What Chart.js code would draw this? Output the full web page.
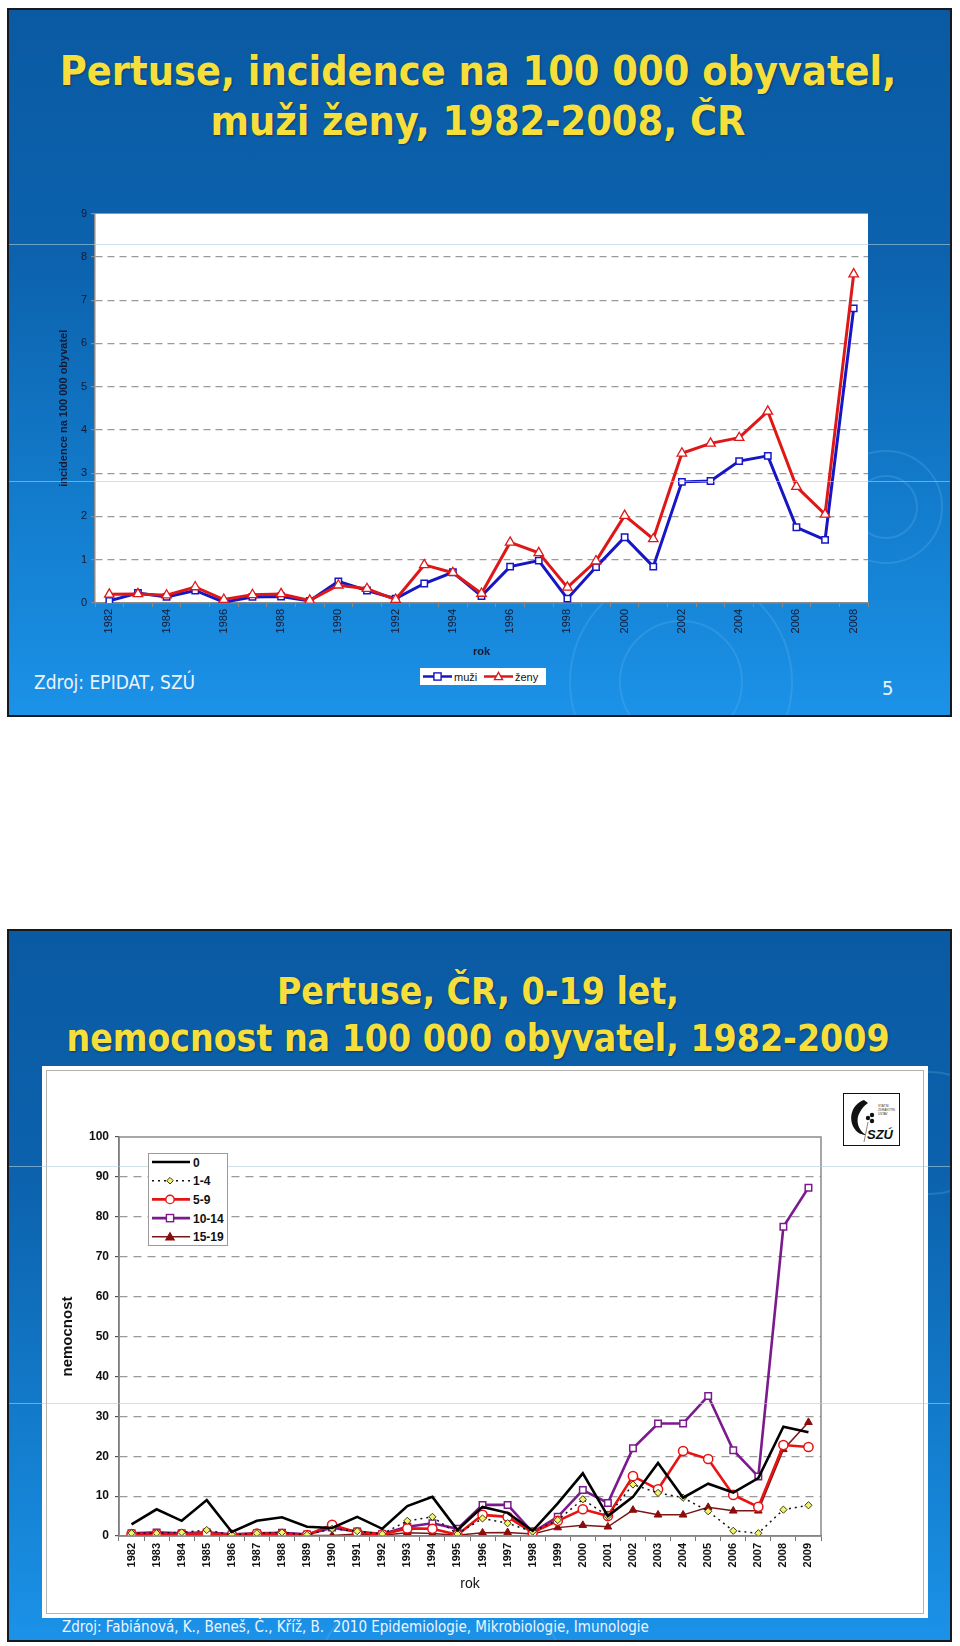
<!DOCTYPE html>
<html lang="cs">
<head>
<meta charset="UTF-8" />
<title>Pertuse - incidence</title>
<script src="https://cdn.jsdelivr.net/npm/chart.js"></script>
<style>
  body {
    margin: 0;
    width: 960px;
    height: 1646px;
    position: relative;
    overflow: hidden;
    background: #fff;
    font-family: 'Liberation Sans', Arial, sans-serif;
  }
  .slide {
    position: absolute;
    left: 7px;
    width: 941px;
    border: 2px solid #17191e;
    overflow: hidden;
    background: linear-gradient(180deg, #0a5aa3 0%, #0c62ad 35%, #137ccc 70%, #1b92e8 100%);
  }
  #s1 { top: 8px; height: 705px; }
  #s2 { top: 929px; height: 709px; }
  .ring {
    position: absolute;
    border-radius: 50%;
    border: 2px solid rgba(120, 190, 240, 0.22);
  }
  .title {
    position: absolute;
    left: 0;
    width: 956px;
    text-align: center;
    color: #f6df3a;
    font-family: 'DejaVu Sans Condensed', 'DejaVu Sans', sans-serif;
    font-stretch: condensed;
    font-weight: bold;
    text-shadow: 1px 1px 2px rgba(0, 0, 0, 0.35);
    white-space: nowrap;
  }
  #t1 { top: 46px; font-size: 41px; line-height: 50px; }
  #t2 { top: 968px; font-size: 37px; line-height: 47px; }
  .note {
    position: absolute;
    color: #eef4ff;
    font-family: 'DejaVu Sans Condensed', 'DejaVu Sans', sans-serif;
    font-stretch: condensed;
    white-space: nowrap;
  }
  .band {
    position: absolute;
    left: 9px;
    width: 941px;
    height: 1px;
    background: rgba(175, 205, 222, 0.6);
    z-index: 5;
  }
  canvas { position: absolute; }
  #wrap1 { position: absolute; left: 30px; top: 203px; width: 850px; height: 460px; }
  #wrap2 { position: absolute; left: 50px; top: 1120px; width: 800px; height: 480px; }
  #box2 {
    position: absolute;
    left: 42px; top: 1066px; width: 886px; height: 552px;
    background: #fff;
  }
  #box2 div {
    position: absolute;
    left: 4px; top: 4px; right: 4px; bottom: 4px;
    border: 1px solid #b4b4b4;
  }
  #leg1 {
    position: absolute;
    left: 420px; top: 668px; width: 126px; height: 17px;
    background: #fff;
  }
  #leg2 {
    position: absolute;
    left: 148px; top: 1153px; width: 80px; height: 93px;
    background: #fff;
    border: 1px solid #9a9a9a;
    box-sizing: border-box;
    z-index: 6;
  }
  #logo {
    position: absolute;
    left: 843px; top: 1093px; width: 57px; height: 53px;
    background: #fff;
    border: 1.5px solid #111;
    box-sizing: border-box;
  }
</style>
</head>
<body>
  <div class="slide" id="s1">
    <div class="ring" style="left:820px; top:440px; width:110px; height:110px;"></div>
    <div class="ring" style="left:845px; top:465px; width:60px; height:60px;"></div>
    <div class="ring" style="left:560px; top:560px; width:220px; height:220px;"></div>
    <div class="ring" style="left:610px; top:610px; width:120px; height:120px;"></div>
  </div>
  <div class="slide" id="s2">
    <div class="ring" style="left:860px; top:140px; width:120px; height:120px;"></div>
    <div class="ring" style="left:300px; top:640px; width:260px; height:260px;"></div>
  </div>

  <div class="title" id="t1">Pertuse, incidence na 100 000 obyvatel,<br>muži ženy, 1982-2008, ČR</div>
  <div class="title" id="t2">Pertuse, ČR, 0-19 let,<br>nemocnost na 100 000 obyvatel, 1982-2009</div>

  <div id="wrap1"><canvas id="chart1"></canvas></div>
  <div id="leg1"></div>
  <div class="note" style="left:34px; top:671px; font-size:19px;">Zdroj: EPIDAT, SZÚ</div>
  <div class="note" style="left:882px; top:676px; font-size:20px;">5</div>

  <div id="box2"><div></div></div>
  <div id="wrap2"><canvas id="chart2"></canvas></div>
  <div id="leg2"></div>
  <div id="logo">
    <svg width="54" height="50" viewBox="0 0 54 50">
      <path d="M20 6 C8 10 4 24 10 34 C13 39 18 41 22 41 C14 36 11 26 16 18 C18 14 21 11 24 9 Z" fill="#111"/>
      <circle cx="24" cy="24" r="2.2" fill="#111"/><circle cx="28" cy="21" r="2.2" fill="#111"/><circle cx="28" cy="27" r="2.2" fill="#111"/>
      <line x1="24" y1="28" x2="20" y2="48" stroke="#888" stroke-width="1"/>
      <text x="34" y="13" font-size="3" fill="#333">STÁTNÍ</text>
      <text x="34" y="17" font-size="3" fill="#333">ZDRAVOTNÍ</text>
      <text x="34" y="21" font-size="3" fill="#333">ÚSTAV</text>
      <text x="23" y="45" font-size="13" font-weight="bold" font-style="italic" fill="#111" font-family="Liberation Sans">SZÚ</text>
    </svg>
  </div>
  <div class="note" style="left:62px; top:1618px; font-size:15px;">Zdroj: Fabiánová, K., Beneš, Č., Kříž, B.&nbsp; 2010 Epidemiologie, Mikrobiologie, Imunologie</div>

  <div class="band" style="top:244px;"></div>
  <div class="band" style="top:481px;"></div>
  <div class="band" style="top:1166px;"></div>
  <div class="band" style="top:1403px;"></div>

<script>
  // --- graf 1: incidence muži / ženy ---
  const roky1 = ['1982','1983','1984','1985','1986','1987','1988','1989','1990','1991','1992','1993','1994','1995',
                 '1996','1997','1998','1999','2000','2001','2002','2003','2004','2005','2006','2007','2008'];
  const muzi = [0.05,0.23,0.14,0.29,0.02,0.14,0.15,0.05,0.50,0.29,0.10,0.45,0.71,0.16,
                0.84,0.98,0.10,0.83,1.52,0.84,2.80,2.82,3.28,3.40,1.75,1.46,6.81];
  const zeny = [0.20,0.21,0.18,0.37,0.08,0.19,0.21,0.06,0.41,0.33,0.08,0.88,0.70,0.22,
                1.40,1.16,0.36,0.97,2.02,1.48,3.46,3.69,3.82,4.43,2.69,2.05,7.60];
  const ticks1 = [0,1,2,3,4,5,6,7,8,9];

  // --- graf 2: nemocnost 0-19 let ---
  const roky2 = ['1982','1983','1984','1985','1986','1987','1988','1989','1990','1991','1992','1993','1994','1995',
                 '1996','1997','1998','1999','2000','2001','2002','2003','2004','2005','2006','2007','2008','2009'];
  const vek0   = [2.9,6.7,3.8,9.0,1.0,3.8,4.7,2.3,2.0,4.8,1.8,7.5,9.8,1.5,
                  7.3,5.8,1.3,8.2,15.7,5.0,9.8,18.3,9.6,13.1,10.9,14.5,27.4,26.0];
  const vek1_4 = [0.7,0.7,0.9,1.5,0.3,0.7,0.9,0.3,1.8,1.2,0.5,3.8,4.8,0.5,
                  4.4,3.2,1.1,4.0,9.2,5.0,12.9,10.8,9.6,6.2,1.3,0.7,6.6,7.7];
  const vek5_9 = [0.5,0.5,0.4,0.7,0.3,0.6,0.5,0.25,2.8,0.9,0.4,1.9,1.8,0.3,
                  5.3,4.8,0.9,3.8,6.7,5.0,15.0,11.7,21.3,19.3,10.3,7.3,22.8,22.3];
  const vek10_14 = [0.7,0.9,0.7,0.9,0.4,0.7,0.8,0.4,2.1,1.1,0.5,2.3,3.2,1.8,
                    7.8,7.8,0.9,4.8,11.5,8.3,22.0,28.2,28.2,35.1,21.5,14.9,77.5,87.3];
  const vek15_19 = [0.2,0.2,0.1,0.2,0.1,0.2,0.1,0.1,0.1,0.5,0.2,0.8,0.6,0.2,
                    0.8,0.9,0.5,2.1,2.7,2.3,6.5,5.3,5.3,7.2,6.3,6.3,21.7,28.5];
  const skupiny = ['0','1-4','5-9','10-14','15-19'];
  const ticks2 = [0,10,20,30,40,50,60,70,80,90,100];

  const plotBg = {
    id: 'plotBg',
    beforeDraw(chart) {
      const {ctx, chartArea: a} = chart;
      ctx.save();
      ctx.fillStyle = '#fff';
      ctx.fillRect(a.left, a.top, a.right - a.left, a.bottom - a.top);
      ctx.restore();
    }
  };
  const plotFrame = {
    id: 'plotFrame',
    afterDraw(chart) {
      const {ctx, chartArea: a} = chart;
      ctx.save();
      ctx.strokeStyle = '#8a8a8a';
      ctx.lineWidth = 1.5;
      ctx.strokeRect(a.left, a.top, a.right - a.left, a.bottom - a.top);
      ctx.restore();
    }
  };

  const dark = '#141a33';

  new Chart(document.getElementById('chart1'), {
    type: 'line',
    data: {
      labels: roky1,
      datasets: [
        { label: 'muži', data: muzi, order: 1, borderColor: '#1616c4', borderWidth: 3,
          pointStyle: 'rect', pointRadius: 4.5, pointBackgroundColor: '#fff',
          pointBorderColor: '#1616c4', pointBorderWidth: 1.5, tension: 0 },
        { label: 'ženy', data: zeny, order: 0, borderColor: '#de1818', borderWidth: 3,
          pointStyle: 'triangle', pointRadius: 5.5, pointBackgroundColor: '#fff',
          pointBorderColor: '#de1818', pointBorderWidth: 1.3, tension: 0 }
      ]
    },
    options: {
      responsive: true,
      maintainAspectRatio: false,
      animation: false,
      layout: { padding: { top: 10, right: 12, left: 0, bottom: 0 } },
      plugins: { legend: { display: false }, tooltip: { enabled: false } },
      scales: {
        x: {
          offset: true,
          afterFit: s => { s.height = 60; },
          grid: { offset: true, drawOnChartArea: false, tickLength: 4, color: '#8a8a8a' },
          border: { color: '#8a8a8a', width: 1.5 },
          ticks: {
            autoSkip: false, maxRotation: 90, minRotation: 90, padding: 2,
            color: dark, font: { size: 11, family: 'Liberation Sans' },
            callback: (v, i) => (i % 2 === 0 ? roky1[i] : '')
          },
          title: { display: true, text: 'rok', color: dark,
                   font: { size: 11, weight: 'bold', family: 'Liberation Sans' }, padding: { bottom: 4 } }
        },
        y: {
          min: 0, max: 9,
          afterFit: s => { s.width = 65; },
          afterBuildTicks: s => { s.ticks = ticks1.map(v => ({ value: v })); },
          grid: {
            color: c => (c.tick.value === 0 || c.tick.value === 9 ? 'rgba(0,0,0,0)' : '#9a9a9a'),
            tickColor: '#8a8a8a', tickLength: 4, tickBorderDash: [], lineWidth: 1.2
          },
          border: { color: '#8a8a8a', width: 1.5, dash: [7, 5] },
          ticks: { color: dark, font: { size: 11, family: 'Liberation Sans' }, padding: 4 },
          title: { display: true, text: 'incidence na 100 000 obyvatel', color: dark,
                   font: { size: 11, weight: 'bold', family: 'Liberation Sans' }, padding: { top: 27 } }
        }
      }
    },
    plugins: [plotBg]
  });

  const styly2 = [
    { borderColor: '#000', borderWidth: 2.6, pointRadius: 0 },
    { borderColor: '#111', borderWidth: 1.5, borderDash: [2, 4], pointStyle: 'rectRot', pointRadius: 3.6,
      pointBackgroundColor: '#f4f46a', pointBorderColor: '#3a3a10', pointBorderWidth: 1 },
    { borderColor: '#e81212', borderWidth: 2.6, pointStyle: 'circle', pointRadius: 4.6,
      pointBackgroundColor: '#fff', pointBorderColor: '#e81212', pointBorderWidth: 1.5 },
    { borderColor: '#7b1a8c', borderWidth: 2.6, pointStyle: 'rect', pointRadius: 4.6,
      pointBackgroundColor: '#fff', pointBorderColor: '#7b1a8c', pointBorderWidth: 1.5 },
    { borderColor: '#7a1616', borderWidth: 1.5, pointStyle: 'triangle', pointRadius: 4.4,
      pointBackgroundColor: '#8a0c0c', pointBorderColor: '#8a0c0c', pointBorderWidth: 1 }
  ];
  const rady2 = [vek0, vek1_4, vek5_9, vek10_14, vek15_19];

  new Chart(document.getElementById('chart2'), {
    type: 'line',
    data: {
      labels: roky2,
      datasets: rady2.map((d, i) => Object.assign({ label: skupiny[i], data: d, tension: 0 }, styly2[i]))
    },
    options: {
      responsive: true,
      maintainAspectRatio: false,
      animation: false,
      layout: { padding: { top: 17, right: 29, left: 0, bottom: 0 } },
      plugins: { legend: { display: false }, tooltip: { enabled: false } },
      scales: {
        x: {
          offset: true,
          afterFit: s => { s.height = 64; },
          grid: { offset: true, drawOnChartArea: false, tickLength: 5, color: '#777' },
          border: { color: '#777', width: 1.5 },
          ticks: {
            autoSkip: false, maxRotation: 90, minRotation: 90, padding: 2,
            color: '#111', font: { size: 11, weight: 'bold', family: 'Liberation Sans' }
          },
          title: { display: true, text: 'rok', color: '#111',
                   font: { size: 14, family: 'Liberation Sans' }, padding: { bottom: 7 } }
        },
        y: {
          min: 0, max: 100,
          afterFit: s => { s.width = 69; },
          afterBuildTicks: s => { s.ticks = ticks2.map(v => ({ value: v })); },
          grid: {
            color: c => (c.tick.value === 0 || c.tick.value === 100 ? 'rgba(0,0,0,0)' : '#9a9a9a'),
            tickColor: '#555', tickLength: 4, tickBorderDash: [], lineWidth: 1.2
          },
          border: { color: '#555', width: 1.5, dash: [8, 6] },
          ticks: { color: '#111', font: { size: 12, weight: 'bold', family: 'Liberation Sans' }, padding: 6 },
          title: { display: true, text: 'nemocnost', color: '#111',
                   font: { size: 15, weight: 'bold', family: 'Liberation Sans' }, padding: { top: 9 } }
        }
      }
    },
    plugins: [plotBg, plotFrame]
  });

  // legendy (HTML, z nazvu rad)
  function znacka(st, x, y) {
    const f = st.pointBackgroundColor || '#fff', b = st.pointBorderColor || st.borderColor;
    const r = 3.6;
    if (st.pointRadius === 0) return '';
    if (st.pointStyle === 'rect')
      return `<rect x="${x - r}" y="${y - r}" width="${2 * r}" height="${2 * r}" fill="${f}" stroke="${b}" stroke-width="1.4"/>`;
    if (st.pointStyle === 'triangle')
      return `<polygon points="${x},${y - r - 0.5} ${x + r + 0.5},${y + r - 0.5} ${x - r - 0.5},${y + r - 0.5}" fill="${f}" stroke="${b}" stroke-width="1.3"/>`;
    if (st.pointStyle === 'rectRot')
      return `<polygon points="${x},${y - 3.3} ${x + 3.3},${y} ${x},${y + 3.3} ${x - 3.3},${y}" fill="${f}" stroke="${b}" stroke-width="1"/>`;
    return `<circle cx="${x}" cy="${y}" r="${r + 0.6}" fill="${f}" stroke="${b}" stroke-width="1.4"/>`;
  }

  const st1 = [
    { borderColor: '#1616c4', pointStyle: 'rect', pointBackgroundColor: '#fff', pointBorderColor: '#1616c4' },
    { borderColor: '#de1818', pointStyle: 'triangle', pointBackgroundColor: '#fff', pointBorderColor: '#de1818' }
  ];
  let svg1 = '<svg width="126" height="17">';
  ['muži', 'ženy'].forEach((t, i) => {
    const x0 = 3 + i * 61;
    svg1 += `<line x1="${x0}" y1="8.5" x2="${x0 + 29}" y2="8.5" stroke="${st1[i].borderColor}" stroke-width="2.5"/>`;
    svg1 += znacka(st1[i], x0 + 14.5, 8.5);
    svg1 += `<text x="${x0 + 31}" y="12.5" font-size="11" font-family="Liberation Sans" fill="#111">${t}</text>`;
  });
  document.getElementById('leg1').innerHTML = svg1 + '</svg>';

  let svg2 = '<svg width="78" height="91">';
  skupiny.forEach((t, i) => {
    const y = 8 + i * 18.7, st = styly2[i];
    const dash = st.borderDash ? `stroke-dasharray="${st.borderDash.join(' ')}"` : '';
    svg2 += `<line x1="3" y1="${y}" x2="41" y2="${y}" stroke="${st.borderColor}" stroke-width="${st.borderWidth}" ${dash}/>`;
    svg2 += znacka(st, 21, y);
    svg2 += `<text x="44" y="${y + 4.5}" font-size="12" font-weight="bold" font-family="Liberation Sans" fill="#111">${t}</text>`;
  });
  document.getElementById('leg2').innerHTML = svg2 + '</svg>';
</script>
</body>
</html>
